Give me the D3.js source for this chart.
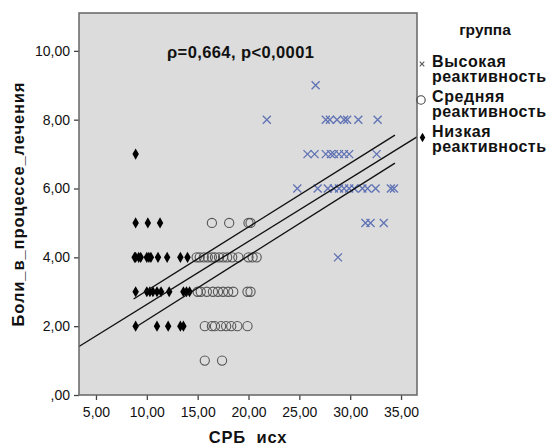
<!DOCTYPE html>
<html><head><meta charset="utf-8">
<script src="https://cdn.jsdelivr.net/npm/d3@7"></script>
<style>body{margin:0;background:#fff}svg{display:block}text{font-family:Arial,"Liberation Sans",sans-serif}</style>
</head><body><svg id="c" width="552" height="445"></svg>
<script>
// ---- data ----
const lowCRP  = [8.9, 8.9,10.1,11.3, 8.8,8.9,9.2,9.4,10.0,10.2,10.4,11.1,12.0,13.3,14.0, 8.9,10.0,10.3,10.6,11.0,11.4,12.2,13.6,13.9,14.2, 8.9,11.0,12.1,13.3,13.6];
const lowPain = [7, 5,5,5, 4,4,4,4,4,4,4,4,4,4,4, 3,3,3,3,3,3,3,3,3,3, 2,2,2,2,2];
const midCRP  = [16.4,18.1,20.0,20.2, 14.9,15.2,15.6,16.0,16.4,16.7,17.1,17.5,17.9,18.4,19.0,20.0,20.4,20.8, 15.0,15.3,15.9,16.5,17.0,17.5,18.0,18.5,19.9,20.2, 15.7,16.4,16.7,17.3,17.8,18.3,18.9,19.9, 15.7,17.4];
const midPain = [5,5,5,5, 4,4,4,4,4,4,4,4,4,4,4,4,4,4, 3,3,3,3,3,3,3,3,3,3, 2,2,2,2,2,2,2,2, 1,1];
const highCRP = [26.6, 21.8,27.6,28.0,28.7,29.4,29.7,30.8,32.7, 25.8,26.5,27.6,28.1,28.4,28.9,29.4,29.9,32.6, 24.8,26.8,27.8,28.4,28.9,29.4,29.9,30.4,31.2,31.7,32.5,34.0,34.3, 31.5,32.0,33.3, 28.8];
const highPain= [9, 8,8,8,8,8,8,8,8, 7,7,7,7,7,7,7,7,7, 6,6,6,6,6,6,6,6,6,6,6,6,6, 5,5,5, 4];
// fit lines: x start, x end, y start, y end
const lineNames = ["total","upper","lower"];
const lineX0 = [3.33, 8.7, 9.0];
const lineX1 = [36.57, 34.4, 34.4];
const lineY0 = [1.41, 2.79, 1.99];
const lineY1 = [7.50, 7.55, 6.74];
const xTicks = [5,10,15,20,25,30,35];
const yTicks = [0,2,4,6,8,10];
const legendLabels = [["Высокая","реактивность"],["Средняя","реактивность"],["Низкая","реактивность"]];
const xTitle = "СРБ  исх", yTitle = "Боли_в_процессе_лечения", legendTitle = "группа";
const annotation = "ρ=0,664, p<0,0001";

// ---- layout ----
const W = 552, H = 445, m = {l:79, t:13, r:135, b:50};
const svg = d3.select("#c");
const x = d3.scaleLinear().domain([3.33, 36.57]).range([m.l, W - m.r]);
const y = d3.scaleLinear().domain([0, 11.1]).range([H - m.b, m.t]);
const fmt = d => d === 0 ? ",00" : d.toFixed(2).replace(".", ",");

svg.append("rect").attr("x", m.l).attr("y", m.t).attr("width", W-m.l-m.r).attr("height", H-m.t-m.b)
  .attr("fill", "#dcdcdc");

const gx = svg.append("g").attr("transform", `translate(0,${H-m.b})`)
  .call(d3.axisBottom(x).tickValues(xTicks).tickFormat(fmt).tickSize(5).tickPadding(7));
const gy = svg.append("g").attr("transform", `translate(${m.l},0)`)
  .call(d3.axisLeft(y).tickValues(yTicks).tickFormat(fmt).tickSize(5).tickPadding(4));
[gx, gy].forEach(g => {
  g.select(".domain").remove();
  g.selectAll("line").attr("stroke", "#444").attr("stroke-width", 1.3);
  g.selectAll("text").attr("font-size", 14).attr("fill", "#111").attr("font-family", "Arial,'Liberation Sans',sans-serif");
});

const plot = svg.append("g");
// circles (medium)
plot.selectAll("circle.mid").data(midCRP).join("circle").attr("class","mid")
  .attr("cx", (d,i) => x(d)).attr("cy", (d,i) => y(midPain[i])).attr("r", 4.6)
  .attr("fill", "none").attr("stroke", "#555").attr("stroke-width", 1.1);
// diamonds (low)
const dia = d3.symbol().type(d3.symbolDiamond).size(36);
plot.selectAll("path.low").data(lowCRP).join("path").attr("class","low")
  .attr("d", dia).attr("transform", (d,i) => `translate(${x(d)},${y(lowPain[i])})`)
  .attr("fill", "#000");
// crosses (high)
const cr = 4;
plot.selectAll("path.high").data(highCRP).join("path").attr("class","high")
  .attr("d", `M${-cr},${-cr}L${cr},${cr}M${-cr},${cr}L${cr},${-cr}`)
  .attr("transform", (d,i) => `translate(${x(d)},${y(highPain[i])})`)
  .attr("stroke", "#5f72b4").attr("stroke-width", 1.3).attr("fill", "none");

// fit lines
plot.selectAll("line.fit").data(lineNames).join("line").attr("class","fit")
  .attr("x1", (d,i) => x(lineX0[i])).attr("x2", (d,i) => x(lineX1[i]))
  .attr("y1", (d,i) => y(lineY0[i])).attr("y2", (d,i) => y(lineY1[i]))
  .attr("stroke", "#111").attr("stroke-width", 1.4);

// frame
svg.append("rect").attr("x", m.l).attr("y", m.t).attr("width", W-m.l-m.r).attr("height", H-m.t-m.b)
  .attr("fill", "none").attr("stroke", "#666").attr("stroke-width", 1.5);

// annotation
svg.append("text").attr("x", 167).attr("y", 58).attr("font-size", 16.5).attr("font-weight", "bold")
  .attr("letter-spacing", 0.4).attr("fill", "#111").text(annotation);

// axis titles
svg.append("text").attr("x", (m.l + W - m.r)/2).attr("y", 443).attr("text-anchor", "middle")
  .style("white-space", "pre").attr("letter-spacing", 0.8)
  .attr("font-size", 16.5).attr("font-weight", "bold").attr("fill", "#111").text(xTitle);
svg.append("text").attr("transform", `translate(24,${204}) rotate(-90)`).attr("text-anchor", "middle")
  .attr("letter-spacing", 0.9)
  .attr("font-size", 16.5).attr("font-weight", "bold").attr("fill", "#111").text(yTitle);

// legend
const lg = svg.append("g");
lg.append("text").attr("x", 485).attr("y", 35).attr("text-anchor", "middle").attr("font-size", 15.5)
  .attr("font-weight", "bold").attr("fill", "#111").text(legendTitle);
const entryY = [66.7, 101.7, 136.7];
legendLabels.forEach((lab, i) => {
  const t = lg.append("text").attr("x", 432).attr("y", entryY[i]).attr("font-size", 16)
    .attr("font-weight", "bold").attr("fill", "#111");
  t.append("tspan").attr("x", 432).attr("letter-spacing", 0.6).text(lab[0]);
  t.append("tspan").attr("x", 432).attr("dy", 14.8).attr("textLength", 114).attr("lengthAdjust", "spacing").text(lab[1]);
});
const s = 2.3;
lg.append("path").attr("d", `M${-s},${-s}L${s},${s}M${-s},${s}L${s},${-s}`)
  .attr("transform", `translate(422,64)`).attr("stroke", "#555").attr("stroke-width", 1.1);
lg.append("circle").attr("cx", 421).attr("cy", 100).attr("r", 4.2).attr("fill", "none").attr("stroke", "#444").attr("stroke-width", 1.1);
lg.append("path").attr("d", d3.symbol().type(d3.symbolDiamond).size(26)).attr("transform", "translate(422.5,137.5)").attr("fill", "#000");
</script></body></html>
